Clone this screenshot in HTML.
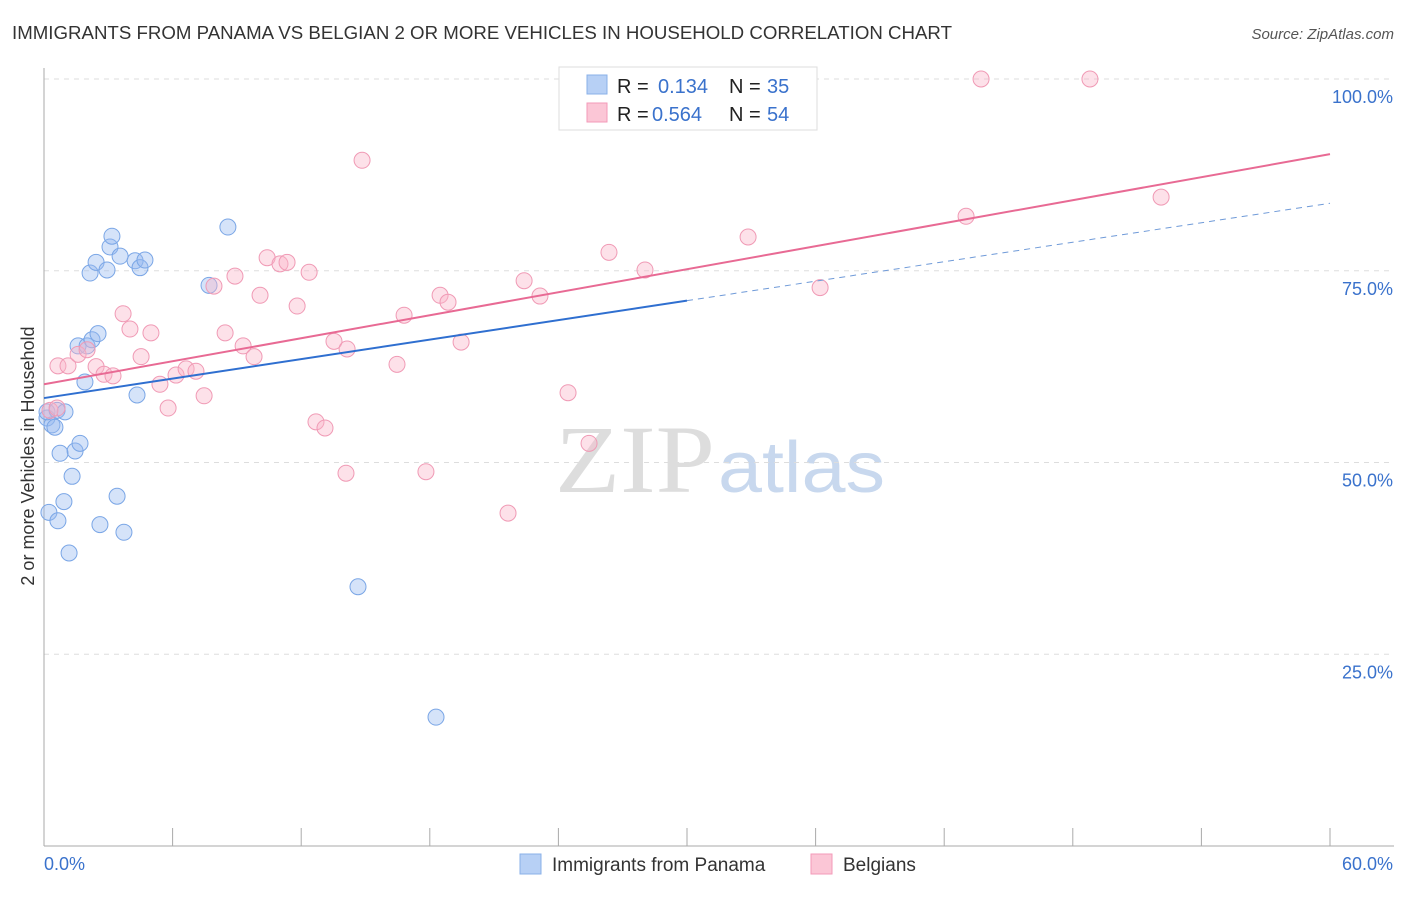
<!DOCTYPE html>
<html><head><meta charset="utf-8"><style>
body{margin:0;background:#fff;font-family:"Liberation Sans",sans-serif;}
</style></head><body>
<svg id="c" width="1406" height="892" xmlns="http://www.w3.org/2000/svg">
<text x="12" y="39" font-size="18" fill="#333" textLength="940" lengthAdjust="spacingAndGlyphs">IMMIGRANTS FROM PANAMA VS BELGIAN 2 OR MORE VEHICLES IN HOUSEHOLD CORRELATION CHART</text>
<text x="1394" y="39" font-size="15" fill="#555" font-style="italic" text-anchor="end">Source: ZipAtlas.com</text>
<text x="34" y="456" font-size="18" fill="#333" text-anchor="middle" transform="rotate(-90 34 456)">2 or more Vehicles in Household</text>
<text x="555" y="492" font-size="96" fill="#ddd" font-family="Liberation Serif" textLength="160" lengthAdjust="spacingAndGlyphs">ZIP</text>
<text x="718" y="492" font-size="72" fill="#c8d8ee" textLength="167" lengthAdjust="spacingAndGlyphs">atlas</text>
<g id="grid"></g><g id="pts"></g><g id="lines"></g>
<g>
<rect x="559" y="67" width="258" height="63" fill="#fff" stroke="#ddd"/>
<rect x="587" y="75" width="20" height="19" fill="#b7d0f5" stroke="#8ab0e8"/>
<rect x="587" y="103" width="20" height="19" fill="#fbc6d6" stroke="#f39ab8"/>
<text x="617" y="93" font-size="20" fill="#222">R = </text><text x="658" y="93" font-size="20" fill="#3a72cc">0.134</text>
<text x="729" y="93" font-size="20" fill="#222">N = </text><text x="767" y="93" font-size="20" fill="#3a72cc">35</text>
<text x="617" y="121" font-size="20" fill="#222">R = </text><text x="652" y="121" font-size="20" fill="#3a72cc">0.564</text>
<text x="729" y="121" font-size="20" fill="#222">N = </text><text x="767" y="121" font-size="20" fill="#3a72cc">54</text>
</g>
<g>
<rect x="520" y="854" width="21" height="20" fill="#b7d0f5" stroke="#8ab0e8"/>
<text x="552" y="871" font-size="19" fill="#333">Immigrants from Panama</text>
<rect x="811" y="854" width="21" height="20" fill="#fbc6d6" stroke="#f39ab8"/>
<text x="843" y="871" font-size="19" fill="#333">Belgians</text>
</g>
</svg>
<script>
const blueX=[0.14,0.37,0.14,0.61,0.98,0.51,0.23,0.65,0.93,1.17,1.31,0.75,1.45,1.68,2.61,3.41,3.73,4.34,1.91,1.59,2.01,2.24,2.52,2.15,2.43,2.94,3.08,3.17,3.55,4.25,4.48,4.71,7.70,8.58,14.65,18.29];
const blueY=[55.8,54.9,56.6,56.8,56.6,54.6,43.5,42.4,44.9,38.2,48.2,51.2,51.5,52.5,41.9,45.6,40.9,58.8,60.5,65.2,65.2,66.0,66.8,74.7,76.1,75.1,78.1,79.5,76.9,76.3,75.4,76.4,73.1,80.7,33.8,16.8];
const pinkX=[0.28,0.61,0.65,1.12,1.59,2.01,2.43,2.80,3.22,3.69,4.01,4.53,4.99,5.41,5.79,6.16,6.63,7.09,7.47,7.93,8.45,8.91,9.29,9.80,10.08,10.41,11.01,11.34,11.81,12.37,12.69,13.11,13.53,14.14,14.09,14.84,16.47,16.80,17.82,18.48,18.85,19.46,21.65,22.40,23.14,24.45,25.43,26.36,28.04,32.85,36.21,43.02,43.72,48.80,52.12];
const pinkY=[56.8,57.1,62.6,62.6,64.1,64.7,62.5,61.5,61.3,69.4,67.4,63.8,66.9,60.2,57.1,61.4,62.2,61.9,58.7,73.0,66.9,74.3,65.2,63.8,71.8,76.7,75.9,76.1,70.4,74.8,55.3,54.5,65.8,64.8,48.6,89.4,62.8,69.2,48.8,71.8,70.9,65.7,43.4,73.7,71.7,59.1,52.5,77.4,75.1,79.4,72.8,82.1,100,100,84.6];
const yTicks=[25,50,75,100];
const yTickLabels=["25.0%","50.0%","75.0%","100.0%"];
const blueTrend=[58.4,83.8];
const pinkTrend=[60.2,90.2];
const NS="http://www.w3.org/2000/svg";
const sx=v=>44+v/60*1286, sy=v=>846-v/100*767;
function mk(t,a,p){const e=document.createElementNS(NS,t);for(const k in a)e.setAttribute(k,a[k]);p.appendChild(e);return e;}
const g=document.getElementById('grid');
yTicks.forEach((t,i)=>{
 const l=mk('line',{x1:44,x2:1394,y1:sy(t),y2:sy(t),stroke:'#ddd','stroke-dasharray':'5,5'},g);
 
 
 const tx=mk('text',{x:1393,y:sy(t)+24,'font-size':18,fill:'#3a72cc','text-anchor':'end'},g);
 tx.textContent=yTickLabels[i];
 
 
});
const ax=mk('line',{x1:44,x2:44,y1:68,y2:846,stroke:'#aaa'},g);


const bx=mk('line',{x1:44,x2:1394,y1:846,y2:846,stroke:'#aaa'},g);


for(let i=1;i<=10;i++){const t=mk('line',{x1:sx(i*6),x2:sx(i*6),y1:828,y2:846,stroke:'#aaa'},g);
 
 }
[["0.0%",44,'start'],["60.0%",1393,'end']].forEach(a=>{const t=mk('text',{x:a[1],y:870,'font-size':18,fill:'#3a72cc','text-anchor':a[2]},g);t.textContent=a[0];
 
 });
const p=document.getElementById('pts');
blueX.forEach((x,i)=>{const c=mk('circle',{cx:sx(x),cy:sy(blueY[i]),r:8,fill:'rgba(150,185,240,0.4)',stroke:'#7aa6e6','stroke-width':1},p);
 
 });
pinkX.forEach((x,i)=>{const c=mk('circle',{cx:sx(x),cy:sy(pinkY[i]),r:8,fill:'rgba(250,180,200,0.4)',stroke:'#f09ab5','stroke-width':1},p);
 
 });
const L=document.getElementById('lines');
const by=x=>blueTrend[0]+(blueTrend[1]-blueTrend[0])*x/60;
let a=mk('line',{x1:sx(0),y1:sy(by(0)),x2:sx(30),y2:sy(by(30)),stroke:'#2f6fd0','stroke-width':2},L);


a=mk('line',{x1:sx(30),y1:sy(by(30)),x2:sx(60),y2:sy(by(60)),stroke:'#6f9ad8','stroke-width':1,'stroke-dasharray':'6,5'},L);


a=mk('line',{x1:sx(0),y1:sy(pinkTrend[0]),x2:sx(60),y2:sy(pinkTrend[1]),stroke:'#e86a94','stroke-width':2},L);


</script>
</body></html>
